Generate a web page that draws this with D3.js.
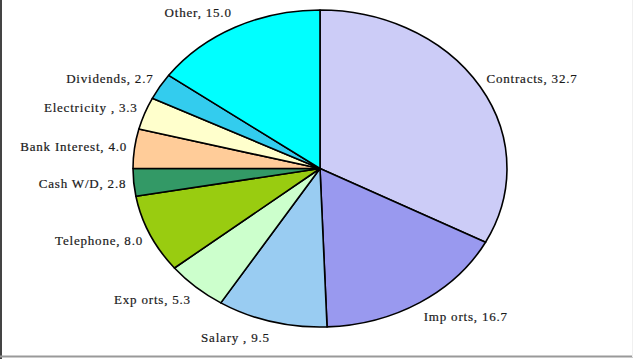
<!DOCTYPE html>
<html>
<head>
<meta charset="utf-8">
<script src="https://cdn.jsdelivr.net/npm/d3@7"></script>
<style>
  body { margin: 0; background: #fff; }
  svg { display: block; }
  .lbl { font-family: "Liberation Serif", "DejaVu Serif", serif; font-size: 13px; letter-spacing: 0.8px;
         fill: #1a1a1a; stroke: #1a1a1a; stroke-width: 0.2px; }
</style>
</head>
<body>
<div id="vis"></div>
<script>
// chart data (clockwise from 12 o'clock)
const categories = ["Contracts", "Imports", "Salary", "Exports", "Telephone",
  "Cash W/D", "Bank Interest", "Electricity", "Dividends", "Other"];
const values = [32.7, 16.7, 9.5, 5.3, 8.0, 2.8, 4.0, 3.3, 2.7, 15.0];
const labelNames = ["Contracts", "Imp orts", "Salary ", "Exp orts", "Telephone",
  "Cash W/D", "Bank Interest", "Electricity ", "Dividends", "Other"];
const colors = ["#ccccf7", "#9999ef", "#99ccf2", "#ccffcc", "#99cc10",
  "#339966", "#ffcc99", "#ffffcc", "#33ccee", "#00ffff"];

const W = 635, H = 359;
const cx = 320, cy = 168.5;
const rx = 187, ry = 158.5;

const svg = d3.select('#vis')
  .append('svg')
  .attr('width', W)
  .attr('height', H);

// frame lines (left + bottom)
svg.append('line')
  .attr('x1', 1).attr('x2', 1).attr('y1', 0).attr('y2', H)
  .attr('stroke', '#444').attr('stroke-width', 2);
svg.append('line')
  .attr('x1', 0).attr('x2', 633).attr('y1', 356.5).attr('y2', 356.5)
  .attr('stroke', '#999').attr('stroke-width', 2);
svg.append('line')
  .attr('x1', 632.5).attr('x2', 632.5).attr('y1', 0).attr('y2', 357)
  .attr('stroke', '#f0f0f0').attr('stroke-width', 1);

const data = categories.map((c, i) => ({ name: c, label: labelNames[i], value: values[i], color: colors[i] }));

const pie = d3.pie().sort(null).value(d => d.value);
const arcs = pie(data);

// unit circle arcs, scaled into an ellipse
const arc = d3.arc().innerRadius(0).outerRadius(ry);

const pieG = svg.append('g')
  .attr('transform', `translate(${cx},${cy}) scale(${rx / ry},1)`);

pieG.selectAll('path')
  .data(arcs)
  .join('path')
  .attr('d', arc)
  .attr('fill', d => d.data.color)
  .attr('stroke', '#000')
  .attr('stroke-width', 1.6)
  .attr('vector-effect', 'non-scaling-stroke')
  .attr('stroke-linejoin', 'round');

// labels just outside the ellipse
const k = 1.04;
svg.selectAll('.lbl')
  .data(arcs)
  .join('text')
  .attr('class', 'lbl')
  .each(function(d) {
    const a = (d.startAngle + d.endAngle) / 2;
    const s = Math.sin(a), c = Math.cos(a);
    d3.select(this)
      .attr('x', cx + rx * k * s)
      .attr('y', cy - ry * k * c - 10 * c)
      .attr('dy', '0.35em')
      .attr('text-anchor', s >= 0 ? 'start' : 'end');
  })
  .text(d => `${d.data.label}, ${d.data.value.toFixed(1)}`);
</script>
</body>
</html>
